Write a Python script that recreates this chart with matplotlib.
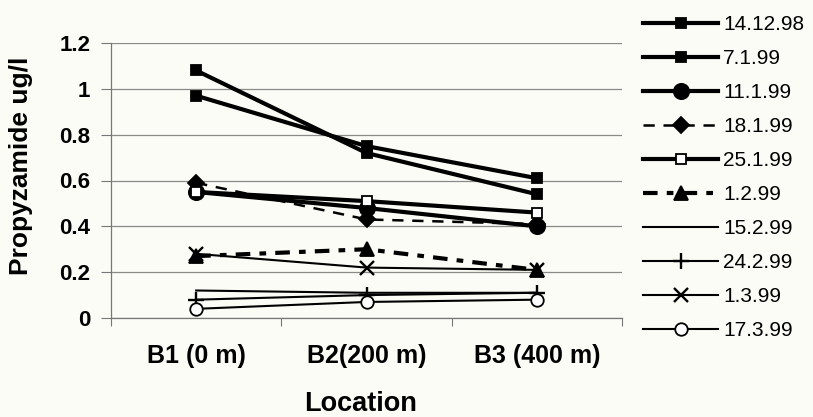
import matplotlib
matplotlib.use('Agg')
import matplotlib.pyplot as plt
from matplotlib.ticker import FixedLocator, FuncFormatter

plt.rcParams['font.family'] = ['Liberation Sans', 'DejaVu Sans']

# Data
locations = ['B1 (0 m)', 'B2(200 m)', 'B3 (400 m)']
dates = ['14.12.98', '7.1.99', '11.1.99', '18.1.99', '25.1.99',
         '1.2.99', '15.2.99', '24.2.99', '1.3.99', '17.3.99']

s_141298 = [1.08, 0.72, 0.54]
s_070199 = [0.97, 0.75, 0.61]
s_110199 = [0.55, 0.48, 0.40]
s_180199 = [0.59, 0.43, 0.41]
s_250199 = [0.55, 0.51, 0.46]
s_010299 = [0.27, 0.30, 0.21]
s_150299 = [0.12, 0.11, 0.11]
s_240299 = [0.08, 0.10, 0.11]
s_010399 = [0.28, 0.22, 0.21]
s_170399 = [0.04, 0.07, 0.08]

series = [s_141298, s_070199, s_110199, s_180199, s_250199,
          s_010299, s_150299, s_240299, s_010399, s_170399]

# style per series: (marker, markersize, facecolor, linewidth, dashes)
styles = [
    ('s', 6.5, 'black', 3.0, None),
    ('s', 6.5, 'black', 3.0, None),
    ('o', 11, 'black', 3.0, None),
    ('D', 8, 'black', 1.8, (4.5, 3.5)),
    ('s', 6.5, 'white', 3.0, None),
    ('^', 10, 'black', 3.0, (3.5, 2.2, 1.6, 2.2)),
    (None, 0, 'black', 1.5, None),
    ('+', 12, 'black', 1.5, None),
    ('x', 10, 'black', 1.5, None),
    ('o', 9, 'white', 1.5, None),
]

bg = '#fcfcf6'
fig = plt.figure(figsize=(8.13, 4.17), dpi=100, facecolor=bg)
ax = fig.add_axes([111 / 813, 1 - 318 / 417, 511 / 813, 275 / 417], facecolor=bg)

x = list(range(len(locations)))
for vals, label, (mk, ms, fc, lw, dash) in zip(series, dates, styles):
    kw = dict(color='black', lw=lw, marker=mk, markersize=ms,
              markerfacecolor=fc, markeredgecolor='black', label=label,
              markeredgewidth=1.7 if mk in ('+', 'x') else 1.3)
    line, = ax.plot(x, vals, **kw)
    if dash is not None:
        line.set_dashes(dash)

ax.set_xlim(-0.5, 2.5)
ax.set_ylim(0, 1.2)

ax.yaxis.set_major_locator(FixedLocator([0, 0.2, 0.4, 0.6, 0.8, 1.0, 1.2]))
ax.yaxis.set_major_formatter(FuncFormatter(lambda v, p: f'{v:g}'))
ax.grid(axis='y', color='#8a8a8a', lw=0.9)
ax.set_axisbelow(True)

ax.xaxis.set_major_locator(FixedLocator([-0.5, 0.5, 1.5, 2.5]))
ax.xaxis.set_major_formatter(FuncFormatter(lambda v, p: ''))
ax.xaxis.set_minor_locator(FixedLocator(x))
ax.xaxis.set_minor_formatter(FuncFormatter(lambda v, p: locations[int(round(v))]))
ax.tick_params(axis='x', which='major', length=6, color='#777777', direction='out')
ax.tick_params(axis='x', which='minor', length=0, pad=19, labelsize=18)
ax.tick_params(axis='y', length=7, color='#777777', pad=8, labelsize=16)
for lbl in ax.get_xticklabels(minor=True) + ax.get_yticklabels():
    lbl.set_fontweight('bold')

for side in ('top', 'right'):
    ax.spines[side].set_visible(False)
for side in ('left', 'bottom'):
    ax.spines[side].set_color('#777777')
    ax.spines[side].set_linewidth(0.9)

fig.text(21 / 813, 1 - 166 / 417, 'Propyzamide ug/l', rotation=90,
         ha='center', va='center', fontsize=19, fontweight='bold')
fig.text(361 / 813, 1 - 411 / 417, 'Location', ha='center', va='baseline',
         fontsize=19.5, fontweight='bold')

fig.legend(loc='upper left', bbox_to_anchor=(643 / 813, 1 - 15 / 417),
           frameon=False, fontsize=15, handlelength=3.6, handletextpad=0.25,
           labelspacing=0.72, borderpad=0, borderaxespad=0, numpoints=1)

fig.savefig('out.png', dpi=100, facecolor=bg)
